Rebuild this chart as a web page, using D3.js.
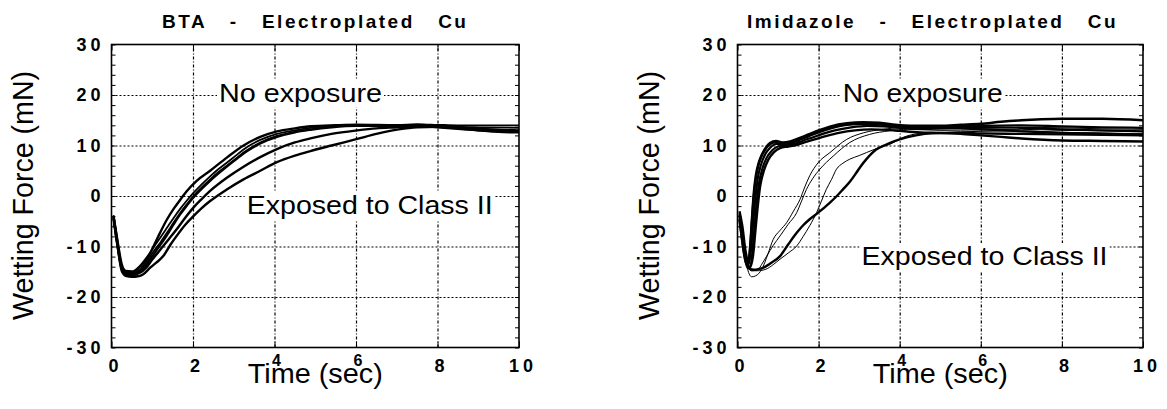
<!DOCTYPE html>
<html>
<head>
<meta charset="utf-8">
<script src="https://cdn.jsdelivr.net/npm/d3@7"></script>
<style>
  body { margin: 0; background: #fff; }
  text { font-family: "Liberation Sans", Arial, Helvetica, sans-serif; fill: #000; }
</style>
</head>
<body>
<div id="chart"></div>
<script>
// tick values
var timeTicks = [0, 2, 4, 6, 8, 10];
var forceTicks = [-30, -20, -10, 0, 10, 20, 30];
var forceMinor = [-30, -28, -26, -24, -22, -20, -18, -16, -14, -12, -10, -8, -6, -4, -2, 0,
    2, 4, 6, 8, 10, 12, 14, 16, 18, 20, 22, 24, 26, 28, 30];
var timeGrid = [2, 4, 6, 8];
var forceGrid = [-20, -10, 0, 10, 20];

var titles = ["BTA   -   Electroplated   Cu", "Imidazole   -   Electroplated   Cu"];
var yTitle = "Wetting Force (mN)";
var xTitle = "Time (sec)";
var noteTop = "No exposure";
var noteBottom = "Exposed to Class II";

// BTA curves [time (sec), force (mN)]
var btaA = [[0.05,-4],[0.15,-9],[0.25,-13.5],[0.35,-15],[0.5,-15.3],[0.7,-14],[0.86,-12.6],[1.0,-10.5],
    [1.19,-7.3],[1.35,-4.8],[1.52,-2.6],[1.7,-0.6],[1.85,1.0],[2.09,3.0],[2.42,5.0],[2.83,7.6],[3.24,10.0],
    [3.65,11.7],[4.06,12.8],[4.5,13.4],[4.9,13.8],[5.5,14.0],[6,14.1],[7,14.0],[7.5,14.1],[8,13.9],[9,13.3],[10,12.8]];
var btaB1 = [[0.05,-4.2],[0.15,-9.5],[0.25,-14],[0.35,-15.2],[0.5,-15.5],[0.7,-14.6],[0.85,-13.2],[1.03,-11.0],
    [1.2,-9.2],[1.36,-7.3],[1.52,-5.3],[1.69,-3.3],[1.85,-1.6],[2.01,0],[2.2,1.6],[2.42,3.3],[2.62,4.7],[2.83,6.0],
    [3.05,7.4],[3.24,8.6],[3.45,9.7],[3.65,10.6],[4.06,11.9],[4.5,12.7],[4.88,13.2],[5.4,13.7],[6,14.0],[6.5,14.0],
    [7,13.9],[7.5,14.0],[8,13.9],[8.5,13.7],[9,13.6],[10,13.5]];
var btaB2 = [[0.05,-3.8],[0.15,-9],[0.25,-13.8],[0.35,-14.8],[0.5,-14.9],[0.7,-13.8],[0.85,-12.3],[1.03,-10.2],
    [1.2,-8.2],[1.36,-6.3],[1.52,-4.4],[1.69,-2.5],[1.85,-0.9],[2.01,0.6],[2.2,2.2],[2.42,3.9],[2.62,5.3],[2.83,6.6],
    [3.05,8.0],[3.24,9.2],[3.45,10.3],[3.65,11.1],[4.06,12.3],[4.5,13.0],[4.88,13.5],[5.4,13.9],[6,14.1],[6.5,14.1],
    [7,14.0],[7.5,14.2],[8,14.1],[8.5,14.0],[9,14.0],[10,14.0]];
var btaB3 = [[0.05,-4.5],[0.15,-10],[0.25,-14.5],[0.35,-15.6],[0.5,-15.7],[0.7,-15.0],[0.85,-13.7],[1.03,-11.6],
    [1.2,-9.7],[1.36,-7.8],[1.52,-5.7],[1.69,-3.6],[1.85,-1.9],[2.01,-0.3],[2.2,1.3],[2.42,3.0],[2.62,4.4],[2.83,5.8],
    [3.05,7.2],[3.24,8.4],[3.45,9.5],[3.65,10.4],[4.06,11.7],[4.5,12.6],[4.88,13.1],[5.4,13.6],[6,13.9],[6.5,13.9],
    [7,13.8],[7.5,13.9],[8,13.6],[8.5,13.3],[9,13.0],[10,12.7]];
var btaC = [[0.05,-4],[0.15,-9.8],[0.25,-14.2],[0.35,-15.4],[0.5,-15.6],[0.7,-15.2],[0.85,-14.2],[1.0,-12.6],
    [1.2,-10.6],[1.4,-8.6],[1.6,-6.6],[1.8,-4.4],[2.01,-2.3],[2.2,-0.7],[2.42,1.0],[2.83,3.6],[3.24,5.8],[3.65,7.7],
    [4.06,9.3],[4.5,10.6],[4.88,11.4],[5.4,12.3],[6.03,13.0],[6.5,13.4],[7,13.6],[7.5,13.8],[8,13.8],[8.5,13.6],
    [9,13.3],[10,13.0]];
var btaD = [[0.05,-4.3],[0.15,-10],[0.25,-14.8],[0.35,-15.8],[0.5,-16],[0.65,-15.9],[0.78,-15.5],[0.95,-14.2],
    [1.1,-13.2],[1.27,-11.9],[1.45,-9.6],[1.6,-7.9],[1.8,-5.8],[2.01,-4.0],[2.2,-2.5],[2.42,-1.0],[2.83,1.3],
    [3.24,3.3],[3.65,5.0],[4.06,6.7],[4.5,8.0],[4.88,8.9],[5.4,10.0],[6.03,11.3],[6.5,12.3],[7.05,13.2],[7.5,13.6],
    [8,13.7],[8.5,13.4],[9,13.0],[9.5,12.7],[10,12.6]];

// Imidazole curves, no exposure
var imidN1 = [[0.05,-3],[0.12,-6],[0.2,-11],[0.27,-12.8],[0.32,-9],[0.36,-4],[0.4,0.5],[0.45,4],[0.52,6.5],
    [0.6,8.2],[0.7,9.6],[0.8,10.5],[0.95,10.9],[1.1,10.6],[1.3,10.8],[1.5,11.4],[1.75,12.2],[2.0,13.0],[2.3,13.8],
    [2.7,14.4],[3.1,14.6],[3.5,14.5],[4.0,14.0],[4.5,13.9],[5,13.9],[5.5,14.1],[6,14.3],[6.5,14.7],[7,15.0],
    [7.5,15.2],[8,15.3],[9,15.3],[10,15.0]];
var imidN2 = [[0.05,-4],[0.12,-7],[0.2,-12],[0.28,-13.5],[0.34,-10],[0.39,-5],[0.44,-0.5],[0.5,3.5],[0.58,6.2],
    [0.68,8.2],[0.8,9.5],[0.95,10.3],[1.1,10.3],[1.3,10.4],[1.5,11.0],[1.75,11.8],[2.0,12.6],[2.3,13.4],[2.7,14.1],
    [3.1,14.3],[3.5,14.2],[4.0,13.8],[4.5,13.6],[5,13.7],[5.5,13.8],[6,13.9],[7,14.0],[8,13.8],[9,13.6],[10,13.5]];
var imidN3 = [[0.05,-3.5],[0.12,-8],[0.2,-12.5],[0.3,-14],[0.37,-11],[0.42,-6],[0.47,-1.5],[0.53,2.5],[0.62,5.6],
    [0.72,7.6],[0.85,9.0],[1.0,9.8],[1.2,10.0],[1.4,10.3],[1.6,10.9],[1.85,11.6],[2.1,12.3],[2.4,13.0],[2.8,13.6],
    [3.2,13.9],[3.6,13.8],[4.0,13.5],[4.5,13.3],[5,13.4],[5.5,13.5],[6,13.6],[7,13.5],[8,13.2],[9,13.0],[10,12.8]];
var imidN4 = [[0.05,-4.5],[0.12,-9],[0.2,-13],[0.3,-14.2],[0.38,-12],[0.44,-7],[0.5,-2],[0.56,2],[0.65,5],
    [0.76,7.2],[0.9,8.7],[1.05,9.5],[1.25,9.8],[1.45,10.1],[1.65,10.6],[1.9,11.2],[2.2,11.9],[2.5,12.5],[2.9,13.0],
    [3.3,13.2],[3.7,13.1],[4.0,12.9],[4.5,12.6],[5,12.5],[5.5,12.3],[6,12.0],[6.5,11.7],[7,11.4],[8,11.0],
    [9,10.9],[10,10.8]];
var imidN5 = [[0.05,-3.8],[0.12,-7.5],[0.2,-12.2],[0.26,-13.2],[0.31,-10.5],[0.35,-5.5],[0.39,-1],[0.44,2.8],
    [0.5,5.5],[0.58,7.6],[0.68,9.1],[0.8,10.2],[0.92,10.6],[1.1,10.2],[1.3,10.6],[1.5,11.2],[1.75,12.0],[2.0,12.8],
    [2.3,13.6],[2.7,14.2],[3.1,14.4],[3.5,14.3],[4.0,13.9],[4.5,13.7],[5,13.6],[6,13.2],[7,12.8],[8,12.5],
    [9,12.3],[10,12.2]];
// Imidazole curves, exposed to class II
var imidE1 = [[0.05,-4],[0.15,-10],[0.25,-14.5],[0.35,-16],[0.45,-15.8],[0.6,-14.5],[0.75,-11.5],[0.88,-8.6],
    [1.05,-6.8],[1.21,-5.3],[1.38,-3.0],[1.54,-0.7],[1.66,1.8],[1.78,4.0],[1.99,6.6],[2.28,8.6],[2.69,11.2],
    [3.1,12.5],[3.59,13.2],[4,13.5],[4.5,13.4],[5,13.3],[6,13.4],[7,13.6],[8,13.5],[9,13.3],[10,13.2]];
var imidE2 = [[0.05,-3.5],[0.15,-9.5],[0.25,-13.8],[0.35,-14.8],[0.5,-14.6],[0.6,-13.5],[0.72,-11.9],[0.88,-9.8],
    [1.05,-7.9],[1.25,-5.6],[1.46,-3.3],[1.58,-1.0],[1.7,1.3],[1.85,3.4],[2.03,5.3],[2.36,7.9],[2.77,10.6],
    [3.26,12.2],[3.75,12.9],[4.2,13.2],[5,13.0],[6,13.1],[7,13.2],[8,13.0],[9,12.9],[10,12.8]];
var imidE3 = [[0.05,-4.2],[0.15,-10.5],[0.25,-14],[0.35,-14.8],[0.5,-14.8],[0.7,-14.5],[0.88,-13.6],[1.05,-12.5],
    [1.25,-11.3],[1.46,-9.9],[1.62,-8.0],[1.78,-5.9],[1.95,-3.3],[2.07,-1.0],[2.19,1.3],[2.32,3.3],[2.44,5.3],
    [2.6,6.5],[2.77,7.3],[3.0,8.0],[3.18,8.6],[3.5,9.6],[3.75,10.2],[4.08,11.6],[4.5,12.4],[5,12.6],[6,12.8],
    [7,12.9],[8,12.6],[9,12.5],[10,12.3]];
var imidE4 = [[0.05,-4.6],[0.15,-10.8],[0.25,-14.2],[0.4,-14.6],[0.55,-14.4],[0.64,-14.2],[0.8,-13.4],[1.05,-11.9],
    [1.25,-9.6],[1.46,-7.3],[1.62,-5.8],[1.78,-4.6],[1.99,-3.3],[2.28,-1.3],[2.45,0],[2.6,1.3],[2.78,2.9],
    [2.93,4.6],[3.05,6.0],[3.18,7.3],[3.42,9.2],[3.67,10.2],[4.0,11.2],[4.4,12.0],[4.8,12.4],[5.5,12.5],[6,12.4],
    [7,12.3],[8,12.2],[9,12.1],[10,12.0]];

var svgWidth = 1167;
var svgHeight = 409;
var plotTop = 44.5;
var plotBottom = 347.5;

var svg = d3.select("#chart").append("svg")
    .attr("width", svgWidth)
    .attr("height", svgHeight);

svg.append("rect")
    .attr("width", svgWidth)
    .attr("height", svgHeight)
    .attr("fill", "#fff");

var panels = [
    {
        left: 111.5, right: 519, title: titles[0], titleX: 162,
        top: { x: 219, y: 101.7, len: 163 }, bottom: { x: 246.7, y: 214, len: 246 },
        curves: [
            { data: btaD, w: 2.4 }, { data: btaC, w: 2.4 }, { data: btaB3, w: 2.2 },
            { data: btaB1, w: 1.8 }, { data: btaB2, w: 1.8 }, { data: btaA, w: 2.4 }
        ]
    },
    {
        left: 737.5, right: 1143, title: titles[1], titleX: 747,
        top: { x: 842.7, y: 101.7, len: 160 }, bottom: { x: 861.5, y: 265, len: 246 },
        curves: [
            { data: imidN1, w: 2.4 }, { data: imidN2, w: 2.2 }, { data: imidN3, w: 2.2 },
            { data: imidN4, w: 2.4 }, { data: imidN5, w: 2.2 },
            { data: imidE1, w: 1 }, { data: imidE2, w: 1 }, { data: imidE3, w: 1 }, { data: imidE4, w: 2.4 }
        ]
    }
];

panels.forEach(drawPanel);

function drawPanel(p) {
    var width = p.right - p.left;
    var height = plotBottom - plotTop;

    var xScale = d3.scaleLinear().domain([0, 10]).range([p.left, p.right]);
    var yScale = d3.scaleLinear().domain([-30, 30]).range([plotBottom, plotTop]);

    var g = svg.append("g");

    // dotted grid
    g.append("g")
        .attr("transform", `translate(${p.left}, 0)`)
        .call(d3.axisLeft(yScale).tickValues(forceGrid).tickSize(-width).tickFormat(""))
        .call(s => s.select(".domain").remove())
        .selectAll("line")
        .attr("stroke", "#000")
        .attr("stroke-width", 1.2)
        .attr("stroke-dasharray", "2,2");

    g.append("g")
        .attr("transform", `translate(0, ${plotBottom})`)
        .call(d3.axisBottom(xScale).tickValues(timeGrid).tickSize(-height).tickFormat(""))
        .call(s => s.select(".domain").remove())
        .selectAll("line")
        .attr("stroke", "#000")
        .attr("stroke-width", 1.2)
        .attr("stroke-dasharray", "3,2,1,2");

    // notes with white box behind them
    [[p.top, noteTop], [p.bottom, noteBottom]].forEach(function(n) {
        var t = g.append("text")
            .attr("x", n[0].x)
            .attr("y", n[0].y)
            .attr("font-size", 26)
            .attr("textLength", n[0].len)
            .attr("lengthAdjust", "spacingAndGlyphs")
            .text(n[1]);
        var bb = t.node().getBBox();
        g.insert("rect", () => t.node())
            .attr("x", bb.x - 2)
            .attr("y", bb.y + 2)
            .attr("width", bb.width + 4)
            .attr("height", bb.height - 2)
            .attr("fill", "#fff");
    });

    // curves
    var line = d3.line()
        .x(d => xScale(d[0]))
        .y(d => yScale(d[1]))
        .curve(d3.curveMonotoneX);

    g.append("g").selectAll("path")
        .data(p.curves)
        .enter()
        .append("path")
        .attr("d", d => line(d.data))
        .attr("fill", "none")
        .attr("stroke", "#000")
        .attr("stroke-width", d => d.w)
        .attr("stroke-linejoin", "round");

    // inward ticks
    g.append("g")
        .attr("transform", `translate(${p.left}, 0)`)
        .call(d3.axisLeft(yScale).tickValues(forceMinor).tickSize(-4).tickFormat(""))
        .call(s => s.select(".domain").remove());
    g.append("g")
        .attr("transform", `translate(${p.right}, 0)`)
        .call(d3.axisRight(yScale).tickValues(forceMinor).tickSize(-4).tickFormat(""))
        .call(s => s.select(".domain").remove());
    g.append("g")
        .attr("transform", `translate(0, ${plotBottom})`)
        .call(d3.axisBottom(xScale).tickValues(timeTicks).tickSize(-6).tickFormat(""))
        .call(s => s.select(".domain").remove());
    g.append("g")
        .attr("transform", `translate(0, ${plotTop})`)
        .call(d3.axisTop(xScale).tickValues(timeTicks).tickSize(-6).tickFormat(""))
        .call(s => s.select(".domain").remove());

    // frame
    g.append("rect")
        .attr("x", p.left)
        .attr("y", plotTop)
        .attr("width", width)
        .attr("height", height)
        .attr("fill", "none")
        .attr("stroke", "#000")
        .attr("stroke-width", 1.6);

    // tick labels
    g.append("g").selectAll("text")
        .data(forceTicks)
        .enter()
        .append("text")
        .attr("x", p.left - 7)
        .attr("y", d => yScale(d) + 6)
        .attr("text-anchor", "end")
        .attr("font-size", 18)
        .attr("font-weight", "bold")
        .attr("letter-spacing", 4)
        .text(d => d);

    // 4 and 6 sit raised above the axis title, as in the original
    g.append("g").selectAll("text")
        .data(timeTicks)
        .enter()
        .append("text")
        .attr("x", d => xScale(d) + 4)
        .attr("y", d => (d == 4 || d == 6) ? plotBottom + 18 : plotBottom + 24.5)
        .attr("text-anchor", "middle")
        .attr("font-size", d => (d == 4 || d == 6) ? 16 : 18)
        .attr("font-weight", "bold")
        .attr("letter-spacing", 4)
        .text(d => d);

    // titles
    g.append("text")
        .attr("x", p.titleX)
        .attr("y", 28)
        .attr("font-size", 19)
        .attr("font-weight", "bold")
        .attr("letter-spacing", 2.5)
        .attr("xml:space", "preserve")
        .style("white-space", "pre")
        .text(p.title);

    g.append("text")
        .attr("transform", `translate(${p.left - 78.5}, 195.4) rotate(-90)`)
        .attr("text-anchor", "middle")
        .attr("font-size", 29)
        .attr("textLength", 249)
        .attr("lengthAdjust", "spacingAndGlyphs")
        .text(yTitle);

    g.append("text")
        .attr("x", (p.left + p.right) / 2)
        .attr("y", 383)
        .attr("text-anchor", "middle")
        .attr("font-size", 28)
        .attr("textLength", 135)
        .attr("lengthAdjust", "spacingAndGlyphs")
        .text(xTitle);
}
</script>
</body>
</html>
